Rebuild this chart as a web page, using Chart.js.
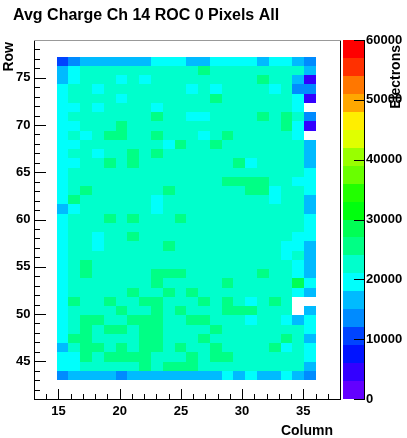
<!DOCTYPE html>
<html><head><meta charset="utf-8">
<script src="https://cdn.jsdelivr.net/npm/chart.js@4/dist/chart.umd.min.js"></script>
<style>html,body{margin:0;padding:0;background:#fff;overflow:hidden}</style>
</head><body>
<canvas id="c" width="407" height="438"></canvas>
<script>
// ---------- data ----------
const titleText = 'Avg Charge Ch 14 ROC 0 Pixels All';
const xTitle = 'Column', yTitle = 'Row', zTitle = 'Electrons';
const columns = [15,16,17,18,19,20,21,22,23,24,25,26,27,28,29,30,31,32,33,34,35,36];
const rowNumbers = [77,76,75,74,73,72,71,70,69,68,67,66,65,64,63,62,61,60,59,58,57,56,55,54,53,52,51,50,49,48,47,46,45,44,43];
const xTickLabels = [15,20,25,30,35];
const yTickLabels = [45,50,55,60,65,70,75];
const zTickLabels = [0,10000,20000,30000,40000,50000,60000];
const zMax = 60000, zBands = 20;

// average charge (electrons) per pixel, one array per row, columns 15..36
const r77 = [10500,13500,16500,16500,16500,16500,16500,16500,19500,19500,19500,16500,16500,19500,19500,19500,19500,16500,19500,19500,16500,13500];
const r76 = [16500,19500,22500,22500,22500,22500,22500,22500,22500,22500,22500,22500,25500,22500,22500,22500,22500,22500,22500,22500,22500,16500];
const r75 = [16500,19500,22500,22500,22500,19500,22500,19500,22500,22500,22500,22500,22500,22500,22500,22500,22500,25500,22500,22500,16500,4500];
const r74 = [19500,22500,22500,19500,22500,22500,22500,22500,22500,22500,22500,19500,22500,19500,22500,22500,22500,22500,19500,22500,13500,13500];
const r73 = [19500,22500,22500,22500,22500,19500,22500,22500,22500,22500,22500,22500,22500,25500,22500,22500,22500,22500,22500,22500,19500,4500];
const r72 = [19500,19500,22500,19500,22500,22500,22500,22500,19500,22500,22500,22500,22500,22500,22500,22500,22500,22500,22500,22500,19500,null];
const r71 = [19500,22500,22500,22500,22500,22500,22500,22500,25500,22500,22500,19500,19500,22500,22500,22500,22500,25500,22500,25500,22500,13500];
const r70 = [19500,19500,22500,22500,22500,25500,22500,22500,22500,22500,22500,22500,22500,22500,22500,22500,22500,22500,22500,25500,19500,4500];
const r69 = [19500,22500,19500,22500,25500,25500,22500,22500,25500,22500,22500,22500,19500,22500,25500,22500,22500,22500,22500,22500,19500,null];
const r68 = [19500,19500,22500,22500,22500,22500,22500,22500,22500,19500,25500,22500,22500,25500,22500,22500,22500,22500,22500,22500,22500,16500];
const r67 = [19500,22500,22500,19500,22500,22500,25500,22500,25500,22500,22500,22500,22500,22500,22500,22500,22500,22500,22500,22500,22500,16500];
const r66 = [19500,19500,22500,22500,25500,22500,25500,22500,22500,22500,22500,22500,22500,22500,22500,25500,19500,22500,22500,22500,22500,16500];
const r65 = [19500,22500,22500,22500,22500,22500,22500,22500,22500,22500,22500,22500,22500,22500,22500,22500,22500,22500,22500,22500,22500,19500];
const r64 = [19500,22500,22500,22500,22500,22500,22500,22500,22500,22500,22500,22500,22500,22500,25500,25500,25500,25500,22500,22500,19500,19500];
const r63 = [19500,22500,25500,22500,22500,22500,22500,22500,22500,25500,22500,22500,22500,22500,22500,22500,25500,25500,19500,22500,22500,19500];
const r62 = [19500,25500,22500,22500,22500,22500,22500,22500,19500,22500,22500,22500,22500,22500,22500,22500,22500,22500,19500,22500,22500,16500];
const r61 = [16500,19500,22500,22500,22500,22500,22500,22500,19500,22500,22500,22500,22500,22500,22500,22500,22500,22500,22500,22500,22500,16500];
const r60 = [19500,22500,22500,22500,25500,22500,25500,22500,22500,22500,25500,22500,22500,22500,22500,22500,22500,22500,22500,22500,22500,19500];
const r59 = [19500,22500,22500,22500,22500,22500,22500,22500,22500,22500,22500,22500,22500,22500,22500,22500,22500,22500,22500,22500,22500,19500];
const r58 = [19500,22500,22500,19500,22500,22500,25500,22500,22500,22500,22500,22500,22500,22500,22500,22500,22500,22500,22500,22500,19500,19500];
const r57 = [19500,22500,22500,19500,22500,22500,22500,22500,22500,25500,22500,22500,22500,22500,22500,22500,22500,22500,22500,19500,19500,16500];
const r56 = [19500,22500,22500,22500,22500,22500,22500,22500,22500,22500,22500,22500,22500,22500,22500,22500,22500,22500,22500,19500,22500,16500];
const r55 = [19500,22500,25500,22500,22500,22500,22500,22500,22500,22500,22500,22500,22500,22500,22500,22500,22500,22500,22500,22500,19500,16500];
const r54 = [19500,22500,25500,22500,22500,22500,22500,22500,25500,25500,25500,22500,22500,22500,22500,22500,22500,25500,22500,22500,19500,16500];
const r53 = [19500,22500,22500,22500,22500,22500,22500,22500,25500,22500,22500,22500,22500,22500,25500,22500,22500,22500,22500,22500,28500,19500];
const r52 = [19500,22500,22500,22500,22500,22500,25500,22500,22500,25500,22500,25500,22500,22500,22500,22500,22500,22500,22500,22500,19500,16500];
const r51 = [19500,25500,22500,22500,25500,22500,22500,25500,25500,22500,22500,22500,25500,22500,25500,22500,19500,22500,25500,22500,null,null];
const r50 = [19500,22500,22500,22500,22500,25500,22500,22500,25500,22500,25500,22500,22500,22500,25500,25500,25500,22500,22500,22500,null,16500];
const r49 = [19500,22500,25500,25500,22500,22500,25500,25500,25500,22500,22500,25500,25500,22500,22500,22500,19500,22500,22500,19500,16500,19500];
const r48 = [19500,22500,25500,22500,25500,25500,22500,25500,25500,22500,22500,22500,22500,25500,22500,22500,22500,22500,22500,22500,22500,19500];
const r47 = [19500,25500,25500,22500,22500,22500,22500,25500,25500,22500,22500,22500,25500,22500,22500,22500,22500,22500,22500,25500,22500,16500];
const r46 = [16500,22500,25500,25500,22500,25500,22500,25500,25500,22500,25500,22500,22500,25500,22500,22500,22500,22500,25500,19500,22500,19500];
const r45 = [19500,19500,25500,22500,25500,25500,25500,25500,22500,22500,22500,25500,22500,25500,25500,22500,22500,22500,22500,22500,22500,19500];
const r44 = [19500,19500,22500,22500,22500,22500,22500,25500,22500,25500,25500,25500,22500,22500,22500,22500,22500,22500,22500,22500,22500,16500];
const r43 = [13500,16500,16500,16500,16500,13500,16500,16500,16500,16500,16500,16500,16500,16500,19500,16500,19500,16500,16500,19500,16500,13500];
const chargeRows = [r77,r76,r75,r74,r73,r72,r71,r70,r69,r68,r67,r66,r65,r64,r63,r62,r61,r60,r59,r58,r57,r56,r55,r54,r53,r52,r51,r50,r49,r48,r47,r46,r45,r44,r43];

// ---------- style ----------
const FONT = '"Liberation Sans", Arial, Helvetica, sans-serif';
Chart.defaults.font.family = FONT;
Chart.defaults.color = '#000';
// ROOT "pretty" palette hues for 20 contour levels
const paletteHues = [263.2,252,235.2,224,207.2,196,179.2,168,151.2,140,123.2,112,95.2,84,67.2,56,39.2,28,11.2,0];
const CELL = {col0: 14.85, colW: 0.963, row0: 43.01, rowH: 0.978};
function colorFor(v) {
  let k = Math.floor(v / (zMax / zBands));
  k = Math.max(0, Math.min(zBands - 1, k));
  return 'hsl(' + paletteHues[k] + ',100%,50%)';
}

const points = [];
rowNumbers.forEach((r, i) => columns.forEach((c, j) => {
  const v = chargeRows[i][j];
  if (v !== null) points.push({x: c, y: r, v: v});
}));

const rootPlugin = {
  id: 'rootHist',
  afterDraw(chart) {
    const {ctx, chartArea: ca, scales: {x, y, z}} = chart;
    ctx.save();
    // cells
    const lastRow = rowNumbers[rowNumbers.length - 1];
    for (const p of chart.data.datasets[0].data) {
      const e0 = CELL.col0 + (p.x - columns[0]) * CELL.colW;
      const f0 = CELL.row0 + (p.y - lastRow) * CELL.rowH;
      const L = Math.round(x.getPixelForValue(e0));
      const R = Math.round(x.getPixelForValue(e0 + CELL.colW));
      const T = Math.round(y.getPixelForValue(f0 + CELL.rowH));
      const B = Math.round(y.getPixelForValue(f0));
      ctx.fillStyle = colorFor(p.v);
      ctx.fillRect(L, T, R - L, B - T);
    }
    // colour bar
    const bL = ca.right + 3, bR = ca.right + 25;
    const step = zMax / zBands;
    for (let k = 0; k < zBands; k++) {
      const y0 = Math.round(z.getPixelForValue(k * step));
      const y1 = Math.round(z.getPixelForValue((k + 1) * step));
      ctx.fillStyle = 'hsl(' + paletteHues[k] + ',100%,50%)';
      ctx.fillRect(bL, y1, bR - bL, y0 - y1);
    }
    ctx.strokeStyle = '#000';
    ctx.lineWidth = 1;
    ctx.beginPath();
    ctx.moveTo(bR - 0.5, ca.top); ctx.lineTo(bR - 0.5, ca.bottom + 1);
    for (const v of zTickLabels) {
      const py = Math.round(z.getPixelForValue(v)) + 0.5;
      ctx.moveTo(bR - 11, py); ctx.lineTo(bR, py);
    }
    // x ticks (inward)
    for (let v = Math.ceil(x.min); v <= Math.floor(x.max); v++) {
      if (v === x.min || v === x.max) continue;
      const px = Math.round(x.getPixelForValue(v)) + 0.5;
      const len = xTickLabels.includes(v) ? 10 : 5;
      ctx.moveTo(px, ca.bottom); ctx.lineTo(px, ca.bottom - len);
    }
    // y ticks (inward)
    for (let v = Math.ceil(y.min); v <= Math.floor(y.max); v++) {
      if (v === y.min || v === y.max) continue;
      const py = Math.round(y.getPixelForValue(v)) + 0.5;
      const len = yTickLabels.includes(v) ? 12 : 6;
      ctx.moveTo(ca.left, py); ctx.lineTo(ca.left + len, py);
    }
    ctx.stroke();
    // top frame line
    ctx.strokeStyle = '#999';
    ctx.beginPath();
    ctx.moveTo(ca.left, ca.top + 0.5); ctx.lineTo(ca.right + 1, ca.top + 0.5);
    ctx.stroke();
    // axis titles
    ctx.fillStyle = '#000';
    ctx.font = 'bold 14px ' + FONT;
    ctx.textBaseline = 'alphabetic';
    ctx.textAlign = 'right';
    ctx.fillText(xTitle, ca.right - 7, 435);
    ctx.save();
    ctx.translate(13, ca.top + 2); ctx.rotate(-Math.PI / 2);
    ctx.fillText(yTitle, 0, 0);
    ctx.restore();
    ctx.save();
    ctx.translate(400, ca.top + 5); ctx.rotate(-Math.PI / 2);
    ctx.fillText(zTitle, 0, 0);
    ctx.restore();
    ctx.restore();
  }
};

const tickFont = {family: FONT, size: 13, weight: 'bold'};
new Chart(document.getElementById('c'), {
  type: 'scatter',
  data: {datasets: [{data: points, pointRadius: 0, pointHoverRadius: 0}]},
  options: {
    responsive: false, animation: false, events: [], devicePixelRatio: 1,
    layout: {padding: {left: 13, top: 0, right: 0, bottom: 0}},
    plugins: {
      legend: {display: false}, tooltip: {enabled: false},
      title: {display: true, text: titleText, align: 'start', color: '#000',
        font: {family: FONT, size: 16, weight: 'bold'}, padding: {top: 5.9, bottom: 14.9}}
    },
    scales: {
      x: {type: 'linear', position: 'bottom', min: 13, max: 38,
        afterFit: s => { s.height = 39; },
        afterBuildTicks: s => { s.ticks = xTickLabels.map(v => ({value: v})); },
        grid: {display: false, drawTicks: false},
        border: {display: true, color: '#000', width: 1},
        ticks: {font: tickFont, color: '#000', padding: 5, maxRotation: 0, autoSkip: false, callback: v => String(v)}},
      y: {type: 'linear', position: 'left', min: 41, max: 79,
        afterFit: s => { s.width = 21; },
        afterBuildTicks: s => { s.ticks = yTickLabels.map(v => ({value: v})); },
        grid: {display: false, drawTicks: false},
        border: {display: true, color: '#000', width: 1},
        ticks: {font: tickFont, color: '#000', padding: 3.5, autoSkip: false, callback: v => String(v)}},
      z: {type: 'linear', position: 'right', min: 0, max: zMax,
        afterFit: s => { s.width = 67; },
        afterBuildTicks: s => { s.ticks = zTickLabels.map(v => ({value: v})); },
        grid: {display: false, drawTicks: true, tickLength: 23},
        border: {display: true, color: '#000', width: 1},
        ticks: {font: tickFont, color: '#000', padding: 3, autoSkip: false, callback: v => String(v)}}
    }
  },
  plugins: [rootPlugin]
});
</script>
</body></html>
